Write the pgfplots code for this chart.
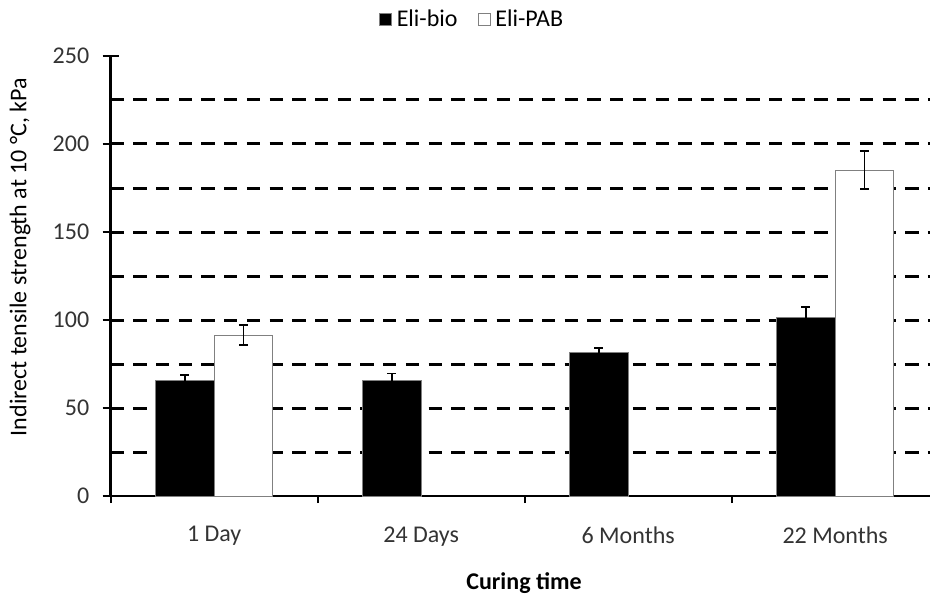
\documentclass[border=0pt]{standalone}
\usepackage{fontspec}
\setmainfont{Carlito}
\usepackage{pgfplots}
\pgfplotsset{compat=1.18}
\definecolor{txt}{gray}{0.2}
\begin{document}
\begin{tikzpicture}
\begin{axis}[
  at={(110.7pt,102pt)}, anchor=south west,
  scale only axis, width=819.3pt, height=440pt,
  xmin=-0.5, xmax=3.458, ymin=0, ymax=250,
  axis x line=bottom, axis y line=left,
  axis line style={-, line width=2.8pt, black},
  ybar, bar width=58.5pt,
  ytick={0,50,...,250}, minor ytick={25,75,...,225},
  tick align=center, major tick length=16pt, minor tick length=8pt,
  tick style={black, line width=2.2pt},
  minor y tick style={xshift=4pt},
  xtick={0,1,2,3}, xticklabels={1 Day,24 Days,6 Months,22 Months},
  major x tick style={draw=none},
  minor xtick={-0.5,0.5,1.5,2.5},
  minor x tick style={yshift=-3pt},
  extra y ticks={25,50,...,225}, extra y tick labels={},
  extra y tick style={grid=major, major tick length=0pt},
  major grid style={black, line width=3pt, dash pattern=on 13.3pt off 9.4pt},
  /pgf/number format/assume math mode=true,
  tick label style={font=\fontsize{24}{28}\selectfont, color=txt},
  yticklabel style={xshift=-10pt},
  xticklabel style={yshift=-19pt},
  ylabel={Indirect tensile strength at 10 °C, kPa},
  ylabel style={at={(axis description cs:-0.1107,0.543)}, anchor=center, rotate=0, font=\fontsize{24}{28}\selectfont, color=black},
  xlabel={\bfseries Curing time},
  xlabel style={at={(axis description cs:0.5045,-0.198)}, anchor=center, font=\fontsize{24}{28}\selectfont, color=black},
  legend style={at={(axis description cs:0.441,1.084)}, anchor=center, draw=none, fill=none,
    legend columns=2, font=\fontsize{24}{28}\selectfont,
    /tikz/every even column/.append style={column sep=18pt}},
]
\addplot[fill=black, draw=gray, line width=0.8pt, bar shift=-29.25pt,
  legend image code/.code={\draw[fill=black,draw=gray] (0pt,-6pt) rectangle (12pt,6pt); \path (15pt,0pt);},
  error bars/.cd, y dir=both, y explicit,
  error bar style={black, line width=1.6pt},
  error mark options={rotate=90, black, mark size=4.5pt, line width=1.6pt}]
  coordinates {(0,65.5) +- (0,3.4) (1,65.9) +- (0,3.8) (2,81.6) +- (0,2.6) (3,101.3) +- (0,6.1)};
\addlegendentry{Eli-bio}
\addplot[fill=white, draw=gray, line width=0.8pt, bar shift=29.25pt,
  legend image code/.code={\draw[fill=white,draw=gray] (0pt,-6pt) rectangle (12pt,6pt); \path (15pt,0pt);},
  error bars/.cd, y dir=both, y explicit,
  error bar style={black, line width=1.6pt},
  error mark options={rotate=90, black, mark size=4.5pt, line width=1.6pt}]
  coordinates {(0,91.5) +- (0,5.7) (3,185.2) +- (0,10.9)};
\addlegendentry{Eli-PAB}
\end{axis}
\pgfresetboundingbox
\path[use as bounding box] (0,0) rectangle (930pt,598pt);
\end{tikzpicture}
\end{document}
